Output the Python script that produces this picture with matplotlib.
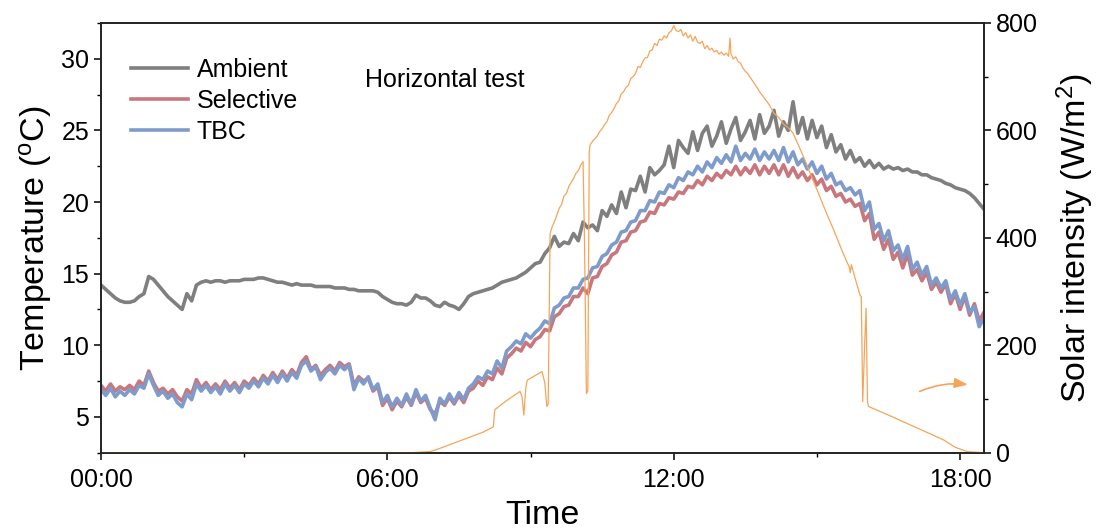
import numpy as np
import matplotlib
matplotlib.use("Agg")
import matplotlib.pyplot as plt
from matplotlib.ticker import MultipleLocator

plt.rcParams["font.family"] = ["Liberation Sans", "DejaVu Sans"]
plt.rcParams["mathtext.fontset"] = "custom"
plt.rcParams["mathtext.rm"] = "Liberation Sans"
plt.rcParams["mathtext.it"] = "Liberation Sans:italic"

# Temperature samples every 0.1 h from 00:00 to 18:30
time_h = np.round(np.arange(0, 18.55, 0.1), 2)

ambient = [
    14.2, 13.9, 13.6, 13.3, 13.1, 13.0, 13.0, 13.1, 13.4, 13.6,
    14.8, 14.6, 14.2, 13.8, 13.4, 13.1, 12.8, 12.5, 13.6, 13.1,
    14.2, 14.4, 14.5, 14.4, 14.5, 14.5, 14.4, 14.5, 14.5, 14.5,
    14.6, 14.6, 14.6, 14.7, 14.7, 14.6, 14.5, 14.4, 14.4, 14.3,
    14.2, 14.3, 14.2, 14.2, 14.2, 14.1, 14.1, 14.1, 14.1, 14.0,
    14.0, 14.0, 13.9, 13.9, 13.8, 13.8, 13.8, 13.8, 13.7, 13.4,
    13.2, 13.0, 12.9, 12.9, 12.8, 13.0, 13.5, 13.3, 13.3, 13.1,
    12.8, 12.7, 13.0, 12.8, 12.7, 12.5, 12.9, 13.4, 13.6, 13.7,
    13.8, 13.9, 14.0, 14.2, 14.4, 14.5, 14.6, 14.7, 14.9, 15.1,
    15.4, 15.7, 15.8, 16.4, 16.8, 17.6, 16.9, 17.2, 17.1, 17.8,
    17.3, 18.6, 18.2, 18.4, 18.0, 19.4, 19.0, 19.8, 19.2, 20.7,
    19.6, 20.9, 20.8, 21.8, 20.7, 22.4, 21.9, 22.2, 22.6, 23.9,
    22.4, 24.3, 23.8, 23.4, 24.9, 23.6, 24.8, 25.3, 23.9, 24.6,
    25.6, 24.1, 25.1, 25.9, 24.3, 24.9, 25.7, 24.4, 26.1, 24.8,
    25.3, 26.4, 24.6, 25.6, 25.0, 27.0, 24.8, 25.9, 24.4, 25.7,
    24.5, 25.3, 23.8, 24.7, 23.5, 24.0, 23.0, 23.6, 22.8, 23.1,
    22.5, 22.9, 22.4, 22.7, 22.3, 22.5, 22.3, 22.4, 22.2, 22.3,
    22.1, 22.1, 21.9, 21.9, 21.7, 21.6, 21.5, 21.3, 21.2, 21.0,
    20.9, 20.8, 20.6, 20.3, 19.9, 19.5,
]

selective = [
    7.2, 6.8, 7.3, 6.8, 7.1, 6.9, 7.2, 6.9, 7.5, 7.2,
    8.2, 7.4, 6.8, 7.0, 6.6, 6.9, 6.4, 6.1, 6.9, 6.6,
    7.6, 7.0, 7.4, 6.9, 7.3, 6.9, 7.5, 7.0, 7.4, 6.9,
    7.5, 7.2, 7.7, 7.3, 7.9, 7.5, 8.1, 7.6, 8.2, 7.7,
    8.3, 7.9, 8.8, 9.2, 8.3, 8.6, 7.9, 8.3, 8.6, 8.2,
    8.8, 8.5, 8.7, 7.2, 7.8, 7.5, 7.7, 6.8, 7.1, 5.8,
    6.3, 5.5, 6.1, 5.7, 6.4, 5.8, 6.7, 6.0, 6.3, 5.5,
    5.2, 6.1, 5.8, 6.4, 5.9, 6.5, 6.0, 6.8, 7.0, 7.5,
    7.2, 7.8, 7.6, 8.4, 8.0, 9.1, 9.4, 9.8, 9.6, 10.2,
    9.9, 10.4, 10.6, 11.1, 11.0, 12.0, 12.2, 12.7, 12.8, 13.4,
    13.4, 14.0, 13.6, 14.7, 14.8, 15.5, 15.7, 16.3, 16.5, 17.2,
    17.3, 17.9, 18.0, 18.6, 18.7, 19.3, 19.2, 19.9, 19.8, 20.3,
    20.2, 20.7, 20.6, 21.1, 21.0, 21.5, 21.2, 21.8, 21.5, 22.0,
    21.7, 22.2, 21.9, 22.5, 21.9, 22.4, 22.0, 22.6, 21.9, 22.5,
    22.0, 22.6, 21.9, 22.6, 21.8, 22.4, 21.7, 22.1, 21.5, 21.9,
    21.2, 21.6, 20.8, 21.1, 20.4, 20.6, 20.0, 20.2, 19.7, 19.9,
    18.7, 19.2, 17.4, 17.9, 16.7, 17.4, 16.0, 16.5, 15.4, 16.4,
    14.9, 15.3, 14.5, 15.1, 13.9, 14.4, 13.7, 14.3, 12.9, 13.6,
    12.5, 13.4, 12.1, 12.9, 11.7, 12.3,
]

tbc = [
    6.9, 6.5, 7.0, 6.4, 6.8, 6.5, 6.9, 6.6, 7.2, 7.0,
    8.0, 7.2, 6.5, 6.8, 6.3, 6.6, 6.0, 5.7, 6.6, 6.2,
    7.3, 6.8, 7.2, 6.7, 7.1, 6.6, 7.3, 6.8, 7.2, 6.7,
    7.3, 7.0, 7.5, 7.1, 7.7, 7.3, 7.9, 7.4, 8.0, 7.5,
    8.1, 7.7, 8.6, 8.9, 8.2, 8.5, 7.6, 8.1, 8.4, 8.0,
    8.6, 8.3, 8.6, 6.9, 7.7, 7.3, 7.8, 6.9, 7.3, 6.0,
    6.5, 5.7, 6.3, 5.8, 6.6, 5.9, 6.9, 6.1, 6.5, 5.6,
    4.8, 6.3, 5.9, 6.6, 6.0, 6.7, 6.2, 7.0, 7.3, 7.8,
    7.6, 8.2, 8.0, 8.9, 8.4, 9.6, 9.9, 10.3, 10.1, 10.8,
    10.5, 10.9, 11.2, 11.7, 11.5, 12.6, 12.8, 13.3, 13.4, 14.0,
    14.0, 14.6, 14.7, 15.4, 15.5, 16.2, 16.4, 17.0, 17.2, 17.9,
    18.0, 18.6, 18.7, 19.4, 19.4, 20.1, 20.0, 20.7, 20.6, 21.2,
    21.0, 21.7, 21.5, 22.1, 21.9, 22.5, 22.1, 22.8, 22.4, 23.1,
    22.7, 23.3, 22.8, 23.9, 22.9, 23.4, 23.0, 23.7, 22.9, 23.5,
    23.0, 23.6, 22.9, 23.8, 22.8, 23.5, 22.6, 23.0, 22.3, 22.8,
    22.0, 22.5, 21.6, 22.0, 21.2, 21.4, 20.8, 21.0, 20.5, 20.8,
    19.4, 20.0, 18.1, 18.5, 17.3, 18.0, 16.6, 17.0, 16.0, 16.9,
    15.3, 15.8, 14.9, 15.5, 14.2, 14.7, 14.0, 14.5, 13.2, 13.8,
    12.8, 13.6, 12.3, 12.7, 11.3, 11.9,
]

# Solar irradiance readings (time in hours, W/m^2)
solar_time = [
    0.0, 6.5, 6.9, 7.1, 7.4, 7.7, 8.0, 8.22, 8.25, 8.5, 8.78, 8.82, 8.86,
    8.9, 8.93, 9.24, 9.3, 9.34, 9.37, 9.41, 9.45, 9.5, 9.55, 9.6, 9.65,
    9.7, 9.75, 9.8, 9.85, 9.9, 9.95, 10.0, 10.05, 10.1, 10.13, 10.17,
    10.2, 10.23, 10.25, 10.3, 10.35, 10.4, 10.45, 10.5, 10.55, 10.6,
    10.65, 10.7, 10.75, 10.8, 10.85, 10.9, 10.95, 11.0, 11.05, 11.1,
    11.15, 11.2, 11.25, 11.3, 11.35, 11.4, 11.45, 11.5, 11.55, 11.6,
    11.65, 11.7, 11.75, 11.8, 11.85, 11.9, 11.95, 12.0, 12.05, 12.1,
    12.15, 12.2, 12.25, 12.3, 12.35, 12.4, 12.45, 12.5, 12.55, 12.6,
    12.65, 12.7, 12.75, 12.8, 12.85, 12.9, 12.95, 13.0, 13.05, 13.1,
    13.15, 13.18, 13.2, 13.25, 13.3, 13.35, 13.4, 13.45, 13.5, 13.55,
    13.6, 13.7, 13.8, 13.9, 14.0, 14.1, 14.2, 14.3, 14.4, 14.5, 14.7,
    14.86, 15.0, 15.2, 15.35, 15.55, 15.68, 15.7, 15.72, 15.9, 15.93,
    15.96, 16.0, 16.03, 16.06, 16.08, 16.5, 16.95, 17.3, 17.65, 17.9,
    18.15, 18.5,
]
solar = [
    0, 0, 2, 8, 18, 28, 38, 48, 80, 97, 114, 105, 70,
    120, 135, 151, 130, 86, 90, 408, 420, 430, 442, 455, 462,
    478, 482, 495, 503, 510, 520, 525, 535, 542, 400, 110,
    115, 560, 573, 580, 585, 590, 598, 603, 611, 616,
    628, 633, 641, 650, 655, 668, 672, 680, 684, 697,
    700, 706, 719, 717, 728, 735, 736, 748, 750, 762,
    758, 770, 768, 776, 772, 782, 785, 795, 786, 784,
    788, 776, 782, 772, 778, 766, 775, 764, 762, 766,
    752, 758, 750, 753, 746, 749, 742, 746, 740, 744,
    738, 772, 742, 733, 737, 728, 725, 716, 710, 706,
    699, 686, 672, 660, 648, 632, 624, 612, 605, 595, 555,
    520, 490, 446, 415, 371, 345, 335, 350, 294, 290,
    95, 200, 269, 95, 86, 70, 52, 38, 24, 10,
    2, 0,
]

time_ticks = [0, 6, 12, 18]
time_labels = ["00:00", "06:00", "12:00", "18:00"]
temp_ticks = [5, 10, 15, 20, 25, 30]
solar_ticks = [0, 200, 400, 600, 800]
series_names = ["Ambient", "Selective", "TBC"]

c_amb = "#7f7f7f"
c_sel = "#c8787c"
c_tbc = "#7f9bcc"
c_sun = "#f5a55a"

fig = plt.figure(figsize=(11, 5.31), dpi=100)
ax = fig.add_axes([0.0918, 0.1475, 0.8027, 0.8092])
ax2 = ax.twinx()

l1, = ax.plot(time_h, ambient, color=c_amb, lw=2.6, label=series_names[0])
l2, = ax.plot(time_h, selective, color=c_sel, lw=2.6, label=series_names[1])
l3, = ax.plot(time_h, tbc, color=c_tbc, lw=2.6, label=series_names[2])
ax2.plot(solar_time, solar, color=c_sun, lw=0.9)

ax.set_xlim(0, 18.5)
ax.set_ylim(2.5, 32.5)
ax2.set_ylim(0, 800)

ax.set_xticks(time_ticks)
ax.set_xticklabels(time_labels)
ax.xaxis.set_minor_locator(MultipleLocator(3))
ax.set_yticks(temp_ticks)
ax.yaxis.set_minor_locator(MultipleLocator(2.5))
ax2.set_yticks(solar_ticks)
ax2.yaxis.set_minor_locator(MultipleLocator(100))

for a in (ax, ax2):
    for s in a.spines.values():
        s.set_linewidth(1.2)
        s.set_color("#222222")
    a.tick_params(which="major", length=5, width=1.1, labelsize=18, direction="out")
    a.tick_params(which="minor", length=3, width=1.0, direction="out")
ax.tick_params(axis="x", pad=6)

ax.set_xlabel("Time", fontsize=24.5, labelpad=6)
ax.set_ylabel("Temperature ($^{\\rm o}$C)", fontsize=24.5, labelpad=5)
ax2.set_ylabel("Solar intensity (W/m$^2$)", fontsize=24.5, labelpad=12)

leg_handles = [plt.Line2D([], [], color=c, lw=2.6) for c in (c_amb, c_sel, c_tbc)]
ax.legend(leg_handles, series_names, loc="upper left", bbox_to_anchor=(0.017, 0.953),
          frameon=False, fontsize=18, handlelength=2.28, handletextpad=0.35,
          labelspacing=0.27, borderaxespad=0.2)

ax.text(0.299, 0.868, "Horizontal test", transform=ax.transAxes,
        fontsize=18, va="center", ha="left")

ax2.annotate("", xy=(18.22, 126), xytext=(17.1, 112),
             arrowprops=dict(arrowstyle="-|>,head_length=0.8,head_width=0.3",
                             color=c_sun, lw=1.2,
                             connectionstyle="arc3,rad=-0.15"))

fig.savefig("out.png", dpi=100)
